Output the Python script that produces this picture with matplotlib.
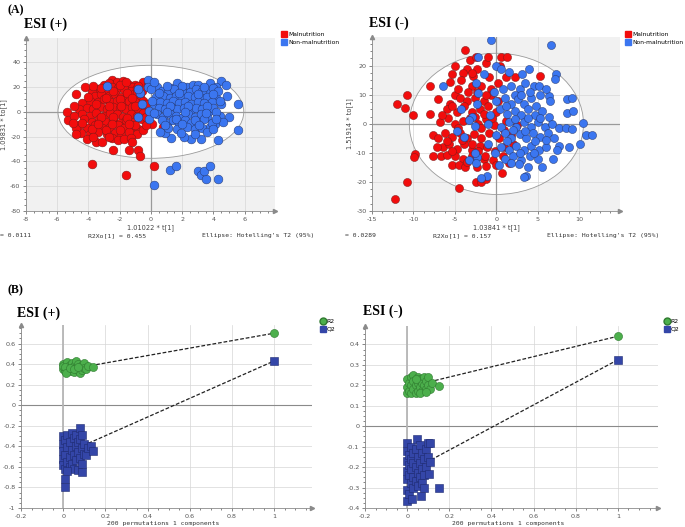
import matplotlib
matplotlib.use("Agg")
import matplotlib.pyplot as plt
from matplotlib.patches import Ellipse
from matplotlib.lines import Line2D
from matplotlib.ticker import MultipleLocator, AutoMinorLocator, FuncFormatter

plt.rcParams['axes.unicode_minus'] = False

# ---- (A) ESI(+) OPLS-DA scores ----
pos_mal = [(-2.5, 26), (-2.2, 24), (-1.8, 25), (-1.4, 22), (-1.0, 22), (-0.5, 24), (-0.2, 22), (-3.0, 22), (-2.7, 23), (-1.2, 20),
           (-4.2, 20), (-3.4, 18), (-2.9, 17), (-2.5, 20), (-2.1, 19), (-1.7, 18), (-1.3, 17), (-0.9, 19), (-0.6, 17), (-3.8, 16),
           (-4.8, 14), (-3.6, 13), (-3.2, 14), (-2.7, 13), (-2.3, 14), (-1.9, 12), (-1.5, 13), (-1.1, 14), (-0.7, 12),
           (-3.9, 9), (-3.4, 8), (-3.0, 10), (-2.6, 8), (-2.2, 9), (-1.8, 7), (-1.4, 9), (-1.0, 8), (-0.5, 9), (-4.4, 7),
           (-4.6, 2), (-4.1, 3), (-3.7, 2), (-3.2, 4), (-2.8, 2), (-2.4, 4), (-2.0, 3), (-1.6, 2), (-1.2, 4), (-0.8, 2), (-0.4, 3),
           (-5.4, 0), (-4.4, -2), (-3.9, -3), (-3.5, -1), (-3.0, -3), (-2.6, -1), (-2.2, -2), (-1.8, -4), (-1.3, -2), (-0.9, -3), (-0.5, -1),
           (-5.3, -7), (-4.3, -6), (-3.8, -8), (-3.3, -6), (-2.9, -8), (-2.4, -7), (-2.0, -9), (-1.6, -7), (-1.1, -8), (-0.6, -6), (-0.2, -7),
           (-4.6, -11), (-4.1, -13), (-3.6, -11), (-3.1, -13), (-2.6, -12), (-2.1, -11), (-1.7, -13), (-1.2, -12), (-0.8, -14), (0.1, -10), (0.8, -12),
           (-4.5, -17), (-3.9, -18), (-3.4, -16), (-2.8, -18), (-2.3, -17), (-1.9, -19), (-1.4, -16), (-0.9, -18), (-0.5, -15),
           (-4.1, -22), (-3.5, -24), (-3.1, -24), (-2.5, -21), (-2.1, -23), (-1.7, -22), (-1.3, -21),
           (-3.7, 21), (-2.0, 22), (-1.6, 24), (-0.8, 21), (-3.2, 19), (-2.4, 17), (-1.5, 15), (-0.9, 15), (-4.0, 12), (-2.9, 11),
           (-2.0, 10), (-1.2, 11), (-0.3, 6), (-4.9, 5), (-3.5, 6), (-2.7, 5), (-1.9, 5), (-1.0, 5), (-4.9, -3), (-3.2, -4),
           (-2.4, -4), (-1.5, -5), (-0.3, -4), (-4.8, -13), (-3.8, -14), (-2.9, -15), (-2.0, -15), (-1.0, -11), (-0.3, -11), (-4.4, -9),
           (-3.4, -10), (-2.5, -10), (-1.4, -10), (-3.7, -20), (-2.7, -20), (-1.2, -24), (-4.8, -18), (-5.0, -9),
           (-2.4, -31), (-1.4, -31), (-0.8, -31), (-0.7, -36), (-3.8, -42), (-1.6, -51), (0.2, -44)]
pos_non = [(-0.2, 26), (-0.2, 20), (0.4, 20), (1.3, 19), (1.7, 23), (2.3, 20), (2.7, 22), (3.0, 22), (3.8, 23), (4.5, 25), (4.8, 22),
           (4.2, 20), (3.6, 17), (4.9, 13), (5.6, 6), (5.0, -4), (5.6, -15), (4.3, -23), (4.1, -10), (3.8, -12), (3.2, -22), (2.6, -22),
           (2.1, -20), (1.3, -21), (0.9, -17), (0.6, -16), (-0.8, -4), (-0.1, -6), (-0.6, 6), (-0.7, 15), (-0.8, 18),
           (0.0, 18), (0.7, 17), (1.1, 16), (1.5, 18), (2.0, 17), (2.5, 16), (2.9, 18), (3.3, 17), (4.0, 19),
           (0.3, 12), (0.8, 13), (1.2, 11), (1.6, 13), (2.0, 11), (2.4, 13), (2.8, 12), (3.2, 11), (3.6, 12), (4.2, 11),
           (0.2, 6), (0.6, 8), (1.0, 7), (1.4, 9), (1.8, 7), (2.2, 8), (2.6, 6), (3.0, 8), (3.4, 7), (3.9, 8),
           (-0.1, 1), (0.5, 3), (0.9, 2), (1.3, 4), (1.7, 2), (2.1, 3), (2.5, 1), (2.9, 3), (3.3, 2), (3.7, 1), (4.0, 3),
           (0.4, -2), (0.8, -4), (1.2, -2), (1.6, -3), (2.0, -5), (2.4, -2), (2.8, -4), (3.2, -2), (3.6, -4), (4.4, -3),
           (1.0, -9), (1.4, -7), (1.8, -9), (2.2, -7), (2.6, -9), (3.0, -8), (3.4, -6), (3.9, -9), (4.6, -8),
           (1.1, -13), (1.7, -14), (2.3, -12), (2.8, -14), (3.3, -13), (3.6, -16), (-2.8, 21),
           (0.2, 24), (1.0, 21), (2.0, 21), (3.4, 20), (4.3, 17), (0.5, 15), (1.8, 15), (3.0, 14), (4.0, 14), (4.5, 6),
           (0.1, 9), (1.2, 5), (2.4, 5), (3.6, 5), (4.4, 9), (0.2, -1), (1.0, 0), (2.2, 0), (3.5, -1), (4.2, 0),
           (0.7, -7), (1.6, -6), (2.8, -7), (4.2, -6), (0.9, -11), (2.0, -10), (3.1, -11), (4.0, -14), (1.9, -17), (2.8, -18),
           (0.2, -59), (1.2, -47), (1.6, -44), (3.0, -48), (3.2, -51), (3.5, -54), (3.4, -48), (3.8, -44), (4.3, -54)]

# ---- (A) ESI(-) OPLS-DA scores ----
neg_mal = [(-5.0, 20), (-3.5, 19), (-2.3, 19), (-1.3, 21), (0.4, 20), (-4.0, 17.5), (-5.4, 17), (-2.8, 16.5), (-0.9, 16), (1.2, 16), (2.3, 16), (5.3, 16.5),
           (-3.8, 25.5), (-3.2, 22), (-2.5, 23), (-1.0, 23), (0.5, 23), (1.3, 23),
           (-8.0, 13), (-5.6, 14.5), (-4.3, 15), (-3.0, 13), (-1.8, 13), (-0.6, 12), (0.2, 14), (-2.4, 11),
           (-10.8, 10), (-7.0, 8.5), (-5.0, 10), (-4.4, 9), (-3.5, 8), (-2.6, 9), (-1.5, 8), (-0.7, 10), (0.2, 8), (-5.6, 7),
           (-12.0, 7), (-11.0, 5.5), (-6.0, 5), (-4.8, 4), (-3.9, 6), (-2.0, 5), (-1.0, 6), (0.0, 4), (-3.0, 4),
           (-10.1, 3.2), (-8.0, 3.3), (-6.8, 0.5), (-5.8, 2), (-5.0, 0), (-4.0, 1), (-3.2, 2), (-2.2, 0), (-1.3, 1.5), (-0.3, -0.5), (1.2, 1), (2.5, -0.5),
           (-7.7, -3.8), (-7.0, -5), (-6.2, -3), (-5.4, -4.5), (-4.4, -3), (-3.5, -5), (-2.7, -3.5), (-1.8, -5), (-0.9, -3), (0.3, -5), (1.8, -4),
           (-6.5, -8), (-5.7, -7), (-4.8, -8.5), (-3.9, -7), (-3.0, -9), (-2.0, -7.5), (-1.1, -8), (-0.2, -9.5), (0.9, -8), (2.0, -7),
           (-9.8, -10.5), (-9.9, -11.5), (-7.6, -11), (-6.7, -11), (-6.0, -10.8), (-5.0, -11), (-4.0, -12), (-3.0, -11), (-1.5, -12), (-0.4, -12.5), (0.8, -11),
           (-5.3, -14), (-4.5, -14), (-3.8, -15), (-2.3, -15), (-1.3, -14.5), (0.0, -14), (1.5, -13.5),
           (-4.6, 12), (-3.4, 11), (-1.2, 10), (-6.6, 3), (-5.4, 6), (-2.6, 2.5), (-1.8, -1.5), (-4.2, -5.5), (-2.2, -9.5), (-3.5, -13),
           (-6.0, -6), (-4.6, -1.5), (-0.5, 2), (0.9, -2), (-1.5, 3.5), (-5.3, -9.5), (-7.2, -8), (-3.0, -7), (-1.4, -11), (-3.0, 17.5),
           (-10.8, -20), (-2.5, -20), (-1.8, -20), (-1.2, -19), (0.7, -16.8), (-4.5, -22), (-12.2, -25.8)]
neg_non = [(-0.7, 29), (6.6, 27), (-2.2, 23), (-1.5, 17), (0.0, 20), (0.5, 19), (1.5, 18), (3.1, 17), (3.9, 19), (7.2, 17), (7.1, 15.5),
           (-6.4, 13), (-2.5, 14), (-2.2, 10.5), (-4.3, 5), (-2.3, 7),
           (0.8, 12), (1.8, 13), (2.8, 12), (3.4, 14), (4.5, 13), (5.1, 13), (-0.3, 11), (2.2, 10),
           (0.0, 8), (1.0, 9), (1.7, 7), (2.6, 8.5), (3.3, 7), (4.2, 9), (5.2, 10), (6.4, 9.5), (6.5, 8), (8.5, 8.7), (9.1, 9), (4.8, 6),
           (-0.8, 3), (0.4, 5), (1.3, 3.5), (2.2, 4.5), (3.0, 3), (3.8, 5), (4.6, 3), (5.5, 4.5), (6.3, 2.5), (8.5, 3.8), (9.2, 4.3), (-3.0, 2.5), (-3.3, 1.3),
           (-2.6, -0.6), (-1.0, 0), (0.5, -1), (1.5, 0.5), (2.4, -1), (3.3, 0.5), (4.2, -1), (5.0, 0.5), (5.8, -1), (6.7, 0), (7.5, -1.5), (8.4, -1.5), (9.1, -1.6), (10.4, 0.3),
           (-3.9, -4.5), (-4.7, -2.5), (0.0, -4), (1.0, -3), (1.8, -5), (2.8, -3.5), (3.6, -5), (4.4, -3), (5.3, -4.5), (6.2, -3), (7.0, -5), (10.8, -3.7), (11.5, -4),
           (-1.0, -7), (0.5, -8), (1.5, -9), (2.4, -7.5), (3.3, -9), (4.2, -7.5), (5.1, -9), (6.0, -8), (7.5, -7.5), (7.3, -9), (8.8, -8), (10.1, -7),
           (-2.3, -11.5), (-2.6, -10), (-3.3, -12.6), (1.0, -12), (2.0, -11), (3.0, -12.5), (4.0, -11), (5.0, -12), (6.8, -12), (-2.5, -13.5),
           (2.2, 1.5), (3.8, 2), (5.3, 2), (2.0, -2), (3.5, -2.5), (4.7, -6), (6.0, -5.5), (2.8, -10), (4.5, -10), (1.3, -6),
           (3.0, 10), (4.0, 11), (1.2, 6), (6.0, 12), (-0.2, -10), (0.3, -14),
           (1.8, -13.5), (2.7, -13.7), (3.8, -15), (5.5, -15), (3.6, -18), (3.3, -18.2), (-1.1, -18), (-1.9, -18.5)]

# ---- (B) permutation tests ----
pos_r2 = [(0.0, 0.40), (0.0, 0.35), (0.01, 0.33), (0.0, 0.38), (0.02, 0.42), (0.02, 0.36), (0.03, 0.39), (0.03, 0.33), (0.04, 0.41),
          (0.04, 0.35), (0.05, 0.38), (0.05, 0.32), (0.06, 0.43), (0.06, 0.36), (0.07, 0.40), (0.07, 0.34), (0.08, 0.37), (0.08, 0.31),
          (0.09, 0.39), (0.09, 0.34), (0.10, 0.41), (0.10, 0.36), (0.11, 0.35), (0.12, 0.38), (0.14, 0.37), (0.01, 0.37), (0.015, 0.31),
          (0.03, 0.36), (0.05, 0.35), (0.07, 0.37)]
pos_q2 = [(0.0, -0.30), (0.0, -0.38), (0.0, -0.45), (0.0, -0.52), (0.0, -0.58), (0.01, -0.34), (0.01, -0.48), (0.01, -0.62), (0.02, -0.29),
          (0.02, -0.41), (0.02, -0.55), (0.03, -0.36), (0.03, -0.50), (0.03, -0.60), (0.04, -0.27), (0.04, -0.44), (0.04, -0.57), (0.05, -0.32),
          (0.05, -0.48), (0.05, -0.62), (0.06, -0.29), (0.06, -0.40), (0.06, -0.53), (0.07, -0.36), (0.07, -0.46), (0.07, -0.63), (0.08, -0.22),
          (0.08, -0.33), (0.08, -0.51), (0.09, -0.65), (0.09, -0.29), (0.09, -0.42), (0.09, -0.57), (0.10, -0.38), (0.10, -0.47), (0.11, -0.48),
          (0.12, -0.42), (0.13, -0.40), (0.14, -0.45), (0.01, -0.72), (0.01, -0.80), (0.02, -0.64)]
pos_r2_model, pos_q2_model = (1.0, 0.70), (1.0, 0.43)
pos_r2_line = [(0.13, 0.385), (1.0, 0.70)]
pos_q2_line = [(0.12, -0.37), (1.0, 0.43)]

neg_r2 = [(0.0, 0.23), (0.0, 0.19), (0.0, 0.16), (0.01, 0.21), (0.01, 0.17), (0.02, 0.24), (0.02, 0.20), (0.02, 0.16), (0.03, 0.25),
          (0.03, 0.22), (0.03, 0.18), (0.04, 0.20), (0.04, 0.16), (0.05, 0.24), (0.05, 0.21), (0.05, 0.17), (0.06, 0.23), (0.06, 0.19),
          (0.07, 0.21), (0.07, 0.17), (0.08, 0.24), (0.08, 0.20), (0.09, 0.18), (0.09, 0.22), (0.10, 0.24), (0.10, 0.20), (0.11, 0.18),
          (0.12, 0.21), (0.15, 0.195), (0.04, 0.23), (0.06, 0.16), (0.09, 0.165)]
neg_q2 = [(0.0, -0.084), (0.0, -0.12), (0.0, -0.17), (0.0, -0.22), (0.0, -0.26), (0.0, -0.31), (0.0, -0.365), (0.01, -0.14), (0.01, -0.19),
          (0.01, -0.24), (0.01, -0.33), (0.02, -0.10), (0.02, -0.16), (0.02, -0.21), (0.02, -0.28), (0.024, -0.354), (0.03, -0.13),
          (0.03, -0.18), (0.03, -0.25), (0.03, -0.30), (0.04, -0.11), (0.04, -0.20), (0.04, -0.27), (0.047, -0.064), (0.05, -0.15),
          (0.05, -0.23), (0.05, -0.29), (0.06, -0.09), (0.06, -0.18), (0.06, -0.25), (0.066, -0.34), (0.07, -0.13), (0.07, -0.21),
          (0.07, -0.28), (0.08, -0.16), (0.08, -0.24), (0.08, -0.30), (0.09, -0.11), (0.09, -0.20), (0.098, -0.08), (0.10, -0.15),
          (0.103, -0.236), (0.106, -0.08), (0.11, -0.175), (0.149, -0.30)]
neg_r2_model, neg_q2_model = (1.0, 0.44), (1.0, 0.325)
neg_r2_line = [(0.106, 0.217), (1.0, 0.44)]
neg_q2_line = [(0.114, -0.164), (1.0, 0.325)]

RED, BLUE = '#f20d0d', '#3b76f0'
GREEN, NAVY = '#4caf4c', '#3446a8'
W, H = 685, 527


def box(l, t, r, b):
    return [l / W, 1 - b / H, (r - l) / W, (b - t) / H]


def fpos(x, y):
    return x / W, 1 - y / H


fmt = FuncFormatter(lambda v, p: '%g' % round(v, 4))


def style_axes(ax, xmaj, ymaj, bg):
    ax.set_facecolor(bg)
    for s in ['top', 'right']:
        ax.spines[s].set_visible(False)
    for s in ['left', 'bottom']:
        ax.spines[s].set_color('#8a8a8a')
        ax.spines[s].set_linewidth(0.6)
    ax.xaxis.set_major_locator(MultipleLocator(xmaj))
    ax.yaxis.set_major_locator(MultipleLocator(ymaj))
    ax.xaxis.set_minor_locator(AutoMinorLocator(4))
    ax.yaxis.set_minor_locator(AutoMinorLocator(4))
    ax.xaxis.set_major_formatter(fmt)
    ax.yaxis.set_major_formatter(fmt)
    ax.tick_params(which='both', labelsize=4.6, colors='#555555', width=0.5, pad=1.5)
    ax.tick_params(which='major', length=2.5)
    ax.tick_params(which='minor', length=1.2)
    ax.set_axisbelow('line')
    ax.grid(True, which='major', color='#d6d6d6', lw=0.5)
    ax.plot(1, 0, '>', color='#8a8a8a', ms=3, transform=ax.transAxes, clip_on=False)
    ax.plot(0, 1, '^', color='#8a8a8a', ms=3, transform=ax.transAxes, clip_on=False)


def scores(ax, mal, non, ell, s):
    ax.add_patch(Ellipse((0, 0), 2 * ell[0], 2 * ell[1], facecolor='white', edgecolor='none', zorder=1))
    ax.add_patch(Ellipse((0, 0), 2 * ell[0], 2 * ell[1], facecolor='none', edgecolor='#9a9a9a', lw=0.6, zorder=2))
    ax.axhline(0, color='#9a9a9a', lw=0.9, zorder=1.6)
    ax.axvline(0, color='#9a9a9a', lw=0.9, zorder=1.6)
    ax.scatter([p[0] for p in mal], [p[1] for p in mal], s=s, c=RED, edgecolors='#7a1a1a', linewidths=0.35, zorder=3)
    ax.scatter([p[0] for p in non], [p[1] for p in non], s=s, c=BLUE, edgecolors='#26386e', linewidths=0.35, zorder=4)


def perm(ax, r2, q2, r2m, q2m, r2l, q2l):
    ax.axhline(0, color='#8a8a8a', lw=0.8, zorder=1.6)
    ax.axvline(0, color='#b5b5b5', lw=1.3, zorder=1.6)
    ax.plot([p[0] for p in r2l], [p[1] for p in r2l], ls=(0, (3, 1.5)), color='#222222', lw=0.9, zorder=2)
    ax.plot([p[0] for p in q2l], [p[1] for p in q2l], ls=(0, (3, 1.5)), color='#222222', lw=0.9, zorder=2)
    ax.scatter([p[0] for p in r2] + [r2m[0]], [p[1] for p in r2] + [r2m[1]], s=34, marker='o', c=GREEN,
               edgecolors='#2f7a2f', linewidths=0.4, zorder=3)
    ax.scatter([p[0] for p in q2] + [q2m[0]], [p[1] for p in q2] + [q2m[1]], s=30, marker='s', c=NAVY,
               edgecolors='#1e2a70', linewidths=0.4, zorder=3)


fig = plt.figure(figsize=(6.85, 5.27), dpi=100)
serif = dict(family='Liberation Serif', weight='bold')
mono = dict(family='DejaVu Sans Mono', fontsize=4.6, color='#333333')

# (A) left
ax1 = fig.add_axes(box(26, 38, 275, 211))
style_axes(ax1, 2, 20, '#f1f1f1')
ax1.set_xlim(-8, 7.95)
ax1.set_ylim(-80, 59.5)
scores(ax1, pos_mal, pos_non, (5.95, 37.5), 40)
ax1.set_xlabel('1.01022 * t[1]', fontsize=4.8, color='#444444', labelpad=2)
ax1.set_ylabel('1.09831 * to[1]', fontsize=4.8, color='#444444', labelpad=2)

# (A) right
ax2 = fig.add_axes(box(372, 37, 620, 211))
style_axes(ax2, 5, 10, '#f1f1f1')
ax2.set_xlim(-15, 14.9)
ax2.set_ylim(-30, 29.9)
scores(ax2, neg_mal, neg_non, (10.5, 24.3), 34)
ax2.set_xlabel('1.03841 * t[1]', fontsize=4.8, color='#444444', labelpad=2)
ax2.set_ylabel('1.51914 * to[1]', fontsize=4.8, color='#444444', labelpad=2)

# (B) left
ax3 = fig.add_axes(box(21, 325, 312, 508))
style_axes(ax3, 0.2, 0.2, 'white')
ax3.set_xlim(-0.2, 1.18)
ax3.set_ylim(-1, 0.78)
perm(ax3, pos_r2, pos_q2, pos_r2_model, pos_q2_model, pos_r2_line, pos_q2_line)

# (B) right
ax4 = fig.add_axes(box(365, 326, 658, 508))
style_axes(ax4, 0.2, 0.1, 'white')
ax4.set_xlim(-0.2, 1.19)
ax4.set_ylim(-0.4, 0.49)
perm(ax4, neg_r2, neg_q2, neg_r2_model, neg_q2_model, neg_r2_line, neg_q2_line)

# legends
sq = lambda c: Line2D([], [], marker='s', ls='', color=c, ms=5)
for x0 in (281, 625):
    fig.legend([sq(RED), sq(BLUE)], ['Malnutrition', 'Non-malnutrition'], loc='upper left',
               bbox_to_anchor=fpos(x0, 32), frameon=False, fontsize=4.3, handlelength=0.9,
               handletextpad=0.3, labelspacing=0.4, borderaxespad=0, borderpad=0)
for x0 in (320, 664):
    fig.legend([Line2D([], [], marker='o', ls='', color=GREEN, mec='#2f7a2f', ms=5),
                Line2D([], [], marker='s', ls='', color=NAVY, ms=4.5)], ['R2', 'Q2'], loc='upper left',
               bbox_to_anchor=fpos(x0, 319), frameon=False, fontsize=4.4, handlelength=0.9,
               handletextpad=0.2, labelspacing=0.35, borderaxespad=0, borderpad=0)

# titles
fig.text(*fpos(7, 10), '(A)', fontsize=8.5, va='center', **serif)
fig.text(*fpos(24, 24), 'ESI (+)', fontsize=10, va='center', **serif)
fig.text(*fpos(369, 23), 'ESI (-)', fontsize=10, va='center', **serif)
fig.text(*fpos(7, 290), '(B)', fontsize=8.5, va='center', **serif)
fig.text(*fpos(17, 313), 'ESI (+)', fontsize=10, va='center', **serif)
fig.text(*fpos(363, 311), 'ESI (-)', fontsize=10, va='center', **serif)

# footers
fig.text(*fpos(0, 236), '= 0.0111', va='center', **mono)
fig.text(*fpos(88, 236), 'R2Xo[1] = 0.455', va='center', **mono)
fig.text(*fpos(202, 236), "Ellipse: Hotelling's T2 (95%)", va='center', **mono)
fig.text(*fpos(345, 236), '= 0.0289', va='center', **mono)
fig.text(*fpos(433, 236), 'R2Xo[1] = 0.157', va='center', **mono)
fig.text(*fpos(547, 236), "Ellipse: Hotelling's T2 (95%)", va='center', **mono)
fig.text(*fpos(163, 523), '200 permutations 1 components', ha='center', va='center', **mono)
fig.text(*fpos(508, 523), '200 permutations 1 components', ha='center', va='center', **mono)

fig.savefig('out.png', dpi=100)
